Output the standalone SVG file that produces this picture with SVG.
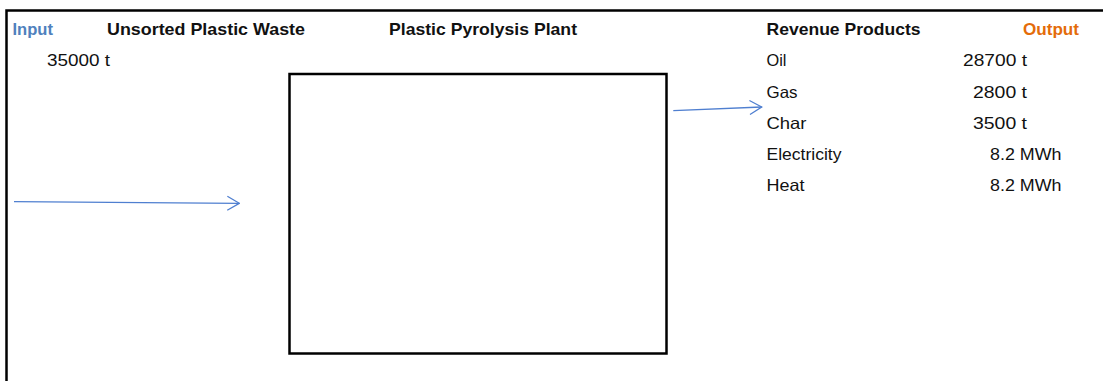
<svg xmlns="http://www.w3.org/2000/svg" width="1103" height="381" viewBox="0 0 1103 381">
<style>
  text { font-family: "Liberation Sans", Arial, sans-serif; font-size: 16.5px; fill: #111; }
  .h { font-weight: bold; }
  .in { fill: #4F81BD; }
  .out { fill: #E46C0A; }
  .num { text-anchor: end; }
  .frame { fill: none; stroke: #000; stroke-width: 2.5; }
  .conn { fill: none; stroke: #4F7FD0; stroke-width: 1.3; }
</style>
<defs>
  <marker id="arr" viewBox="0 0 14 16" refX="13" refY="8" markerWidth="14" markerHeight="16" markerUnits="userSpaceOnUse" orient="auto">
    <path d="M1,1 L13,8 L1,15" fill="none" stroke="#4F7FD0" stroke-width="1.3"/>
  </marker>
</defs>
<rect width="1103" height="381" fill="#fff"/>
<g id="frame">
  <path class="frame" d="M6.5,381 L6.5,10.5 L1103,10.5"/>
</g>
<g id="plant">
  <rect class="frame" x="289.5" y="74" width="377" height="279.5"/>
</g>
<g id="input">
  <text class="h in" x="12.5" y="35" textLength="40.5" lengthAdjust="spacingAndGlyphs">Input</text>
  <text x="110" y="66" class="num" textLength="63" lengthAdjust="spacingAndGlyphs">35000 t</text>
</g>
<g id="waste">
  <text class="h" x="107" y="35" textLength="198" lengthAdjust="spacingAndGlyphs">Unsorted Plastic Waste</text>
</g>
<g id="plant-label">
  <text class="h" x="389" y="35" textLength="188" lengthAdjust="spacingAndGlyphs">Plastic Pyrolysis Plant</text>
</g>
<g id="products">
  <text class="h" x="766.5" y="35" textLength="154" lengthAdjust="spacingAndGlyphs">Revenue Products</text>
  <text class="h out" x="1023" y="35" textLength="56" lengthAdjust="spacingAndGlyphs">Output</text>
  <text x="766.5" y="66" textLength="20" lengthAdjust="spacingAndGlyphs">Oil</text>
  <text x="1027" y="66" class="num" textLength="64" lengthAdjust="spacingAndGlyphs">28700 t</text>
  <text x="766.5" y="98" textLength="31" lengthAdjust="spacingAndGlyphs">Gas</text>
  <text x="1027" y="98" class="num" textLength="54" lengthAdjust="spacingAndGlyphs">2800 t</text>
  <text x="766.5" y="129" textLength="40" lengthAdjust="spacingAndGlyphs">Char</text>
  <text x="1027" y="129" class="num" textLength="54" lengthAdjust="spacingAndGlyphs">3500 t</text>
  <text x="766.5" y="160" textLength="75" lengthAdjust="spacingAndGlyphs">Electricity</text>
  <text x="1061.5" y="160" class="num" textLength="71.5" lengthAdjust="spacingAndGlyphs">8.2 MWh</text>
  <text x="766.5" y="191" textLength="38" lengthAdjust="spacingAndGlyphs">Heat</text>
  <text x="1061.5" y="191" class="num" textLength="71.5" lengthAdjust="spacingAndGlyphs">8.2 MWh</text>
</g>
<g id="connectors">
  <line class="conn" x1="14" y1="201.7" x2="239.3" y2="203.3" marker-end="url(#arr)"/>
  <line class="conn" x1="673.3" y1="110.7" x2="761.7" y2="107" marker-end="url(#arr)"/>
</g>
</svg>
